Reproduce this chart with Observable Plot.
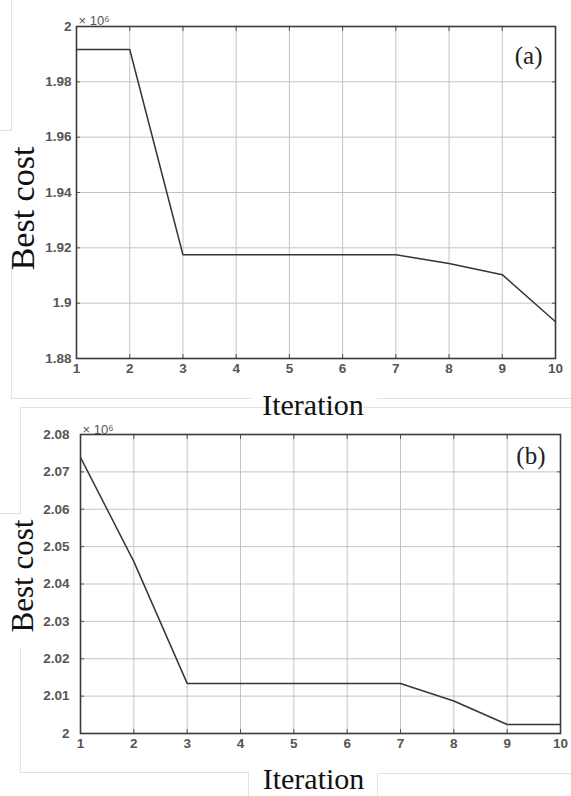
<!DOCTYPE html>
<html>
<head>
<meta charset="utf-8">
<script src="https://cdn.jsdelivr.net/npm/d3@7"></script>
<script src="https://cdn.jsdelivr.net/npm/@observablehq/plot@0.6"></script>
<style>
  html, body { margin: 0; padding: 0; background: #fff; }
  #wrap { position: relative; width: 571px; height: 796px; overflow: hidden; background: #fff; }
  #wrap svg { position: absolute; left: 0; }
  .art { position: absolute; background: #e2e2e2; }
</style>
</head>
<body>
<div id="wrap"></div>
<script>
// ---- data (values in units of 10^6) ----
const iterations = [1, 2, 3, 4, 5, 6, 7, 8, 9, 10];
const costA = [1.9917, 1.9917, 1.9175, 1.9175, 1.9175, 1.9175, 1.9175, 1.9143, 1.9103, 1.8933];
const costB = [2.0739, 2.0460, 2.0134, 2.0134, 2.0134, 2.0134, 2.0134, 2.0087, 2.0024, 2.0024];
const yTicksA = [1.88, 1.9, 1.92, 1.94, 1.96, 1.98, 2];
const yTicksB = [2, 2.01, 2.02, 2.03, 2.04, 2.05, 2.06, 2.07, 2.08];
const xTicks = iterations;
const yLabel = "Best cost";
const xLabel = "Iteration";
const exponentLabel = "× 10⁶";
const panelTags = ["(a)", "(b)"];

const wrap = document.getElementById("wrap");

// faint scan-frame artifacts of the original figure
const artifacts = [
  [11, 0, 1, 130], [0, 130, 12, 1],
  [11, 265, 1, 133], [11, 398, 240, 1], [377, 398, 194, 1],
  [20, 407, 551, 1], [20, 407, 1, 106], [0, 513, 21, 1],
  [20, 647, 1, 125], [20, 772, 228, 1], [248, 772, 1, 24],
  [377, 773, 194, 1], [377, 773, 1, 23]
];
for (const [l, t, w, h] of artifacts) {
  const d = document.createElement("div");
  d.className = "art";
  d.style.cssText = `left:${l}px;top:${t}px;width:${w}px;height:${h}px`;
  wrap.appendChild(d);
}

function panel(cfg) {
  const rows = iterations.map((it, i) => ({iter: it, cost: cfg.values[i]}));
  const chart = Plot.plot({
    width: 571,
    height: cfg.height,
    marginTop: cfg.mt, marginBottom: cfg.mb, marginLeft: cfg.ml, marginRight: cfg.mr,
    style: {fontFamily: "'Liberation Sans', Arial, sans-serif", background: "transparent", overflow: "visible"},
    x: {domain: [1, 10]},
    y: {domain: cfg.yDomain},
    marks: [
      Plot.gridX(xTicks, {stroke: "#c4c4c4", strokeOpacity: 1, strokeWidth: 1}),
      Plot.gridY(cfg.yTicks, {stroke: "#c4c4c4", strokeOpacity: 1, strokeWidth: 1}),
      Plot.axisX({ticks: xTicks, anchor: "bottom", tickSize: 0, tickPadding: 5, label: null,
        fontSize: 13.5, fontWeight: "bold", fill: "#555", tickFormat: d => String(d)}),
      Plot.axisY({ticks: cfg.yTicks, anchor: "left", tickSize: 0, tickPadding: cfg.yPad, label: null,
        fontSize: 13.5, fontWeight: "bold", fill: "#555", tickFormat: d => String(+d.toFixed(2))}),
      Plot.axisX({ticks: xTicks, anchor: "top", tickSize: -4, label: null, tickFormat: () => "", stroke: "#555"}),
      Plot.axisX({ticks: xTicks, anchor: "bottom", tickSize: -4, label: null, tickFormat: () => "", stroke: "#555"}),
      Plot.axisY({ticks: cfg.yTicks, anchor: "right", tickSize: -4, label: null, tickFormat: () => "", stroke: "#555"}),
      Plot.axisY({ticks: cfg.yTicks, anchor: "left", tickSize: -4, label: null, tickFormat: () => "", stroke: "#555"}),
      Plot.line(rows, {x: "iter", y: "cost", stroke: "#2c3840", strokeWidth: 1.5}),
      Plot.frame({stroke: "#3a3a3a", strokeWidth: 1.6}),
      Plot.text([exponentLabel], {frameAnchor: "top-left", textAnchor: "start", lineAnchor: "bottom",
        dx: 2, dy: cfg.expDy, fontSize: 13, fill: "#555"}),
      Plot.text([cfg.tag], {frameAnchor: "top-right", textAnchor: "end", lineAnchor: "bottom",
        dx: cfg.tagDx, dy: cfg.tagDy, fontSize: 25, fill: "#222",
        fontFamily: "'Liberation Serif', 'Times New Roman', serif"}),
      Plot.text([xLabel], {frameAnchor: "bottom", textAnchor: "middle", lineAnchor: "bottom",
        dx: cfg.xlDx, dy: cfg.xlDy, fontSize: 30, fill: "#111",
        fontFamily: "'Liberation Serif', 'Times New Roman', serif"}),
      Plot.text([yLabel], {frameAnchor: "left", textAnchor: "middle", lineAnchor: "bottom", rotate: -90,
        dx: cfg.ylDx, dy: cfg.ylDy, fontSize: cfg.ylSize, fill: "#111",
        fontFamily: "'Liberation Serif', 'Times New Roman', serif"})
    ]
  });
  chart.style.top = cfg.top + "px";
  wrap.appendChild(chart);
}

panel({values: costA, yDomain: [1.88, 2], yTicks: yTicksA, top: 0, height: 420,
  mt: 26, mb: 62, ml: 76, mr: 16, yPad: 5, expDy: -2,
  tag: panelTags[0], tagDx: -13, tagDy: 37,
  xlDx: -3, xlDy: 56, ylDx: -43, ylDy: 16, ylSize: 34});

panel({values: costB, yDomain: [2, 2.08], yTicks: yTicksB, top: 420, height: 376,
  mt: 14, mb: 63, ml: 80, mr: 11, yPad: 11, expDy: -1,
  tag: panelTags[1], tagDx: -15, tagDy: 29,
  xlDx: -7, xlDy: 55, ylDx: -48, ylDy: -8, ylSize: 31});
</script>
</body>
</html>
